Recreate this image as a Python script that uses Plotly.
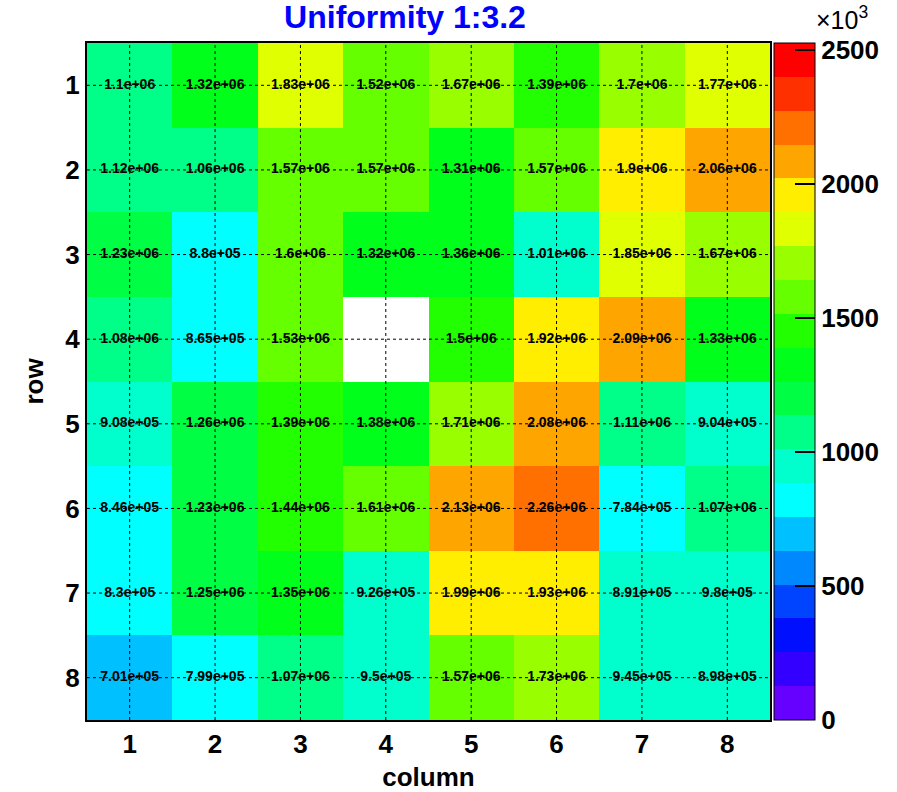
import plotly.graph_objects as go

# 8 x 8 detector grid: columns left to right, rows top to bottom
columns = [1, 2, 3, 4, 5, 6, 7, 8]
rows = [1, 2, 3, 4, 5, 6, 7, 8]

# counts per cell, one list per row (None = empty cell)
row1 = [1.10e6, 1.32e6, 1.83e6, 1.52e6, 1.67e6, 1.39e6, 1.70e6, 1.77e6]
row2 = [1.12e6, 1.06e6, 1.57e6, 1.57e6, 1.31e6, 1.57e6, 1.90e6, 2.06e6]
row3 = [1.23e6, 8.80e5, 1.60e6, 1.32e6, 1.36e6, 1.01e6, 1.85e6, 1.67e6]
row4 = [1.08e6, 8.65e5, 1.53e6, None, 1.50e6, 1.92e6, 2.09e6, 1.33e6]
row5 = [9.08e5, 1.26e6, 1.39e6, 1.38e6, 1.71e6, 2.08e6, 1.11e6, 9.04e5]
row6 = [8.46e5, 1.23e6, 1.44e6, 1.61e6, 2.13e6, 2.26e6, 7.84e5, 1.07e6]
row7 = [8.30e5, 1.25e6, 1.35e6, 9.26e5, 1.99e6, 1.93e6, 8.91e5, 9.80e5]
row8 = [7.01e5, 7.99e5, 1.07e6, 9.50e5, 1.57e6, 1.73e6, 9.45e5, 8.98e5]
counts = [row1, row2, row3, row4, row5, row6, row7, row8]

# colour axis
z_min = 0.0
z_max = 2.526e6
cbar_ticks = [0, 5e5, 1e6, 1.5e6, 2e6, 2.5e6]
cbar_labels = ["0", "500", "1000", "1500", "2000", "2500"]

# 20-step rainbow palette, violet (low) to red (high)
palette = [
    "#6600ff", "#3300ff", "#0010ff", "#0044ff", "#0088ff",
    "#00c0ff", "#00ffff", "#00ffcc", "#00ff88", "#00ff44",
    "#00ff1a", "#22ff00", "#66ff00", "#99ff00", "#e0ff00",
    "#ffee00", "#ffa500", "#ff7000", "#ff3000", "#ff0000",
]
n = len(palette)
colorscale = []
for i, c in enumerate(palette):
    colorscale.append([i / n, c])
    colorscale.append([(i + 1) / n, c])

x_range = [columns[0] - 0.5, columns[-1] + 0.5]
y_range = [rows[-1] + 0.5, rows[0] - 0.5]

FONT = "Liberation Sans"

# plot-area geometry in pixels
W, H = 897, 792
M_L, M_R, M_T, M_B = 87, 127, 43, 72
PW = W - M_L - M_R
PH = H - M_T - M_B

fig = go.Figure()

fig.add_trace(go.Heatmap(
    x=columns, y=rows, z=counts,
    zmin=z_min, zmax=z_max,
    colorscale=colorscale,
    hoverinfo="skip",
    colorbar=dict(
        x=1 + 4 / PW, xanchor="left", xpad=0,
        y=0.5, yanchor="middle", ypad=0,
        len=1, lenmode="fraction",
        thickness=41, thicknessmode="pixels",
        outlinewidth=1, outlinecolor="black",
        tickmode="array", tickvals=cbar_ticks, ticktext=cbar_labels,
        ticks="inside", ticklen=20, tickwidth=2, tickcolor="black",
        tickfont=dict(family=FONT, size=26, color="black", weight="bold"),
    ),
))

# dotted grid through the cell centres
gx, gy = [], []
for c in columns:
    gx += [c, c, None]
    gy += [y_range[0], y_range[1], None]
for r in rows:
    gx += [x_range[0], x_range[1], None]
    gy += [r, r, None]
fig.add_trace(go.Scatter(
    x=gx, y=gy, mode="lines",
    line=dict(color="black", width=1, dash="dot"),
    hoverinfo="skip", showlegend=False,
))

# value labels in every filled cell
tx, ty, tt = [], [], []
for r, vals in zip(rows, counts):
    for c, v in zip(columns, vals):
        if v is None:
            continue
        tx.append(c)
        ty.append(r)
        tt.append(f"{v:.3g}")
fig.add_trace(go.Scatter(
    x=tx, y=ty, mode="text", text=tt,
    textfont=dict(family=FONT, size=14, color="black", weight="bold"),
    hoverinfo="skip", showlegend=False,
))

axis_font = dict(family=FONT, size=26, color="black", weight="bold")

fig.update_layout(
    width=W, height=H,
    margin=dict(l=M_L, r=M_R, t=M_T, b=M_B, autoexpand=False),
    paper_bgcolor="white", plot_bgcolor="white",
    showlegend=False,
    title=dict(
        text="Uniformity 1:3.2",
        font=dict(family=FONT, size=32, color="#0000ff", weight="bold"),
        x=0.4515, xanchor="center", xref="container",
        y=0.9785, yanchor="middle", yref="container",
    ),
    xaxis=dict(
        range=x_range, tickmode="array", tickvals=columns,
        ticktext=[str(c) for c in columns],
        showgrid=False, zeroline=False, ticks="",
        showline=True, mirror=True, linecolor="black", linewidth=2,
        tickfont=axis_font,
        title=dict(text="column", font=axis_font, standoff=14),
    ),
    yaxis=dict(
        range=y_range, tickmode="array", tickvals=rows,
        ticktext=[str(r) for r in rows],
        showgrid=False, zeroline=False, ticks="",
        showline=True, mirror=True, linecolor="black", linewidth=2,
        tickfont=axis_font,
        title=dict(text="row", font=axis_font, standoff=14),
    ),
    annotations=[dict(
        text="×10<sup>3</sup>",
        xref="paper", yref="paper",
        x=1 + (815 - (M_L + PW)) / PW, xanchor="left",
        y=1 + (M_T - 35) / PH, yanchor="bottom",
        borderpad=0,
        showarrow=False,
        font=dict(family=FONT, size=25, color="black"),
    )],
)

fig.write_html("out.html")
